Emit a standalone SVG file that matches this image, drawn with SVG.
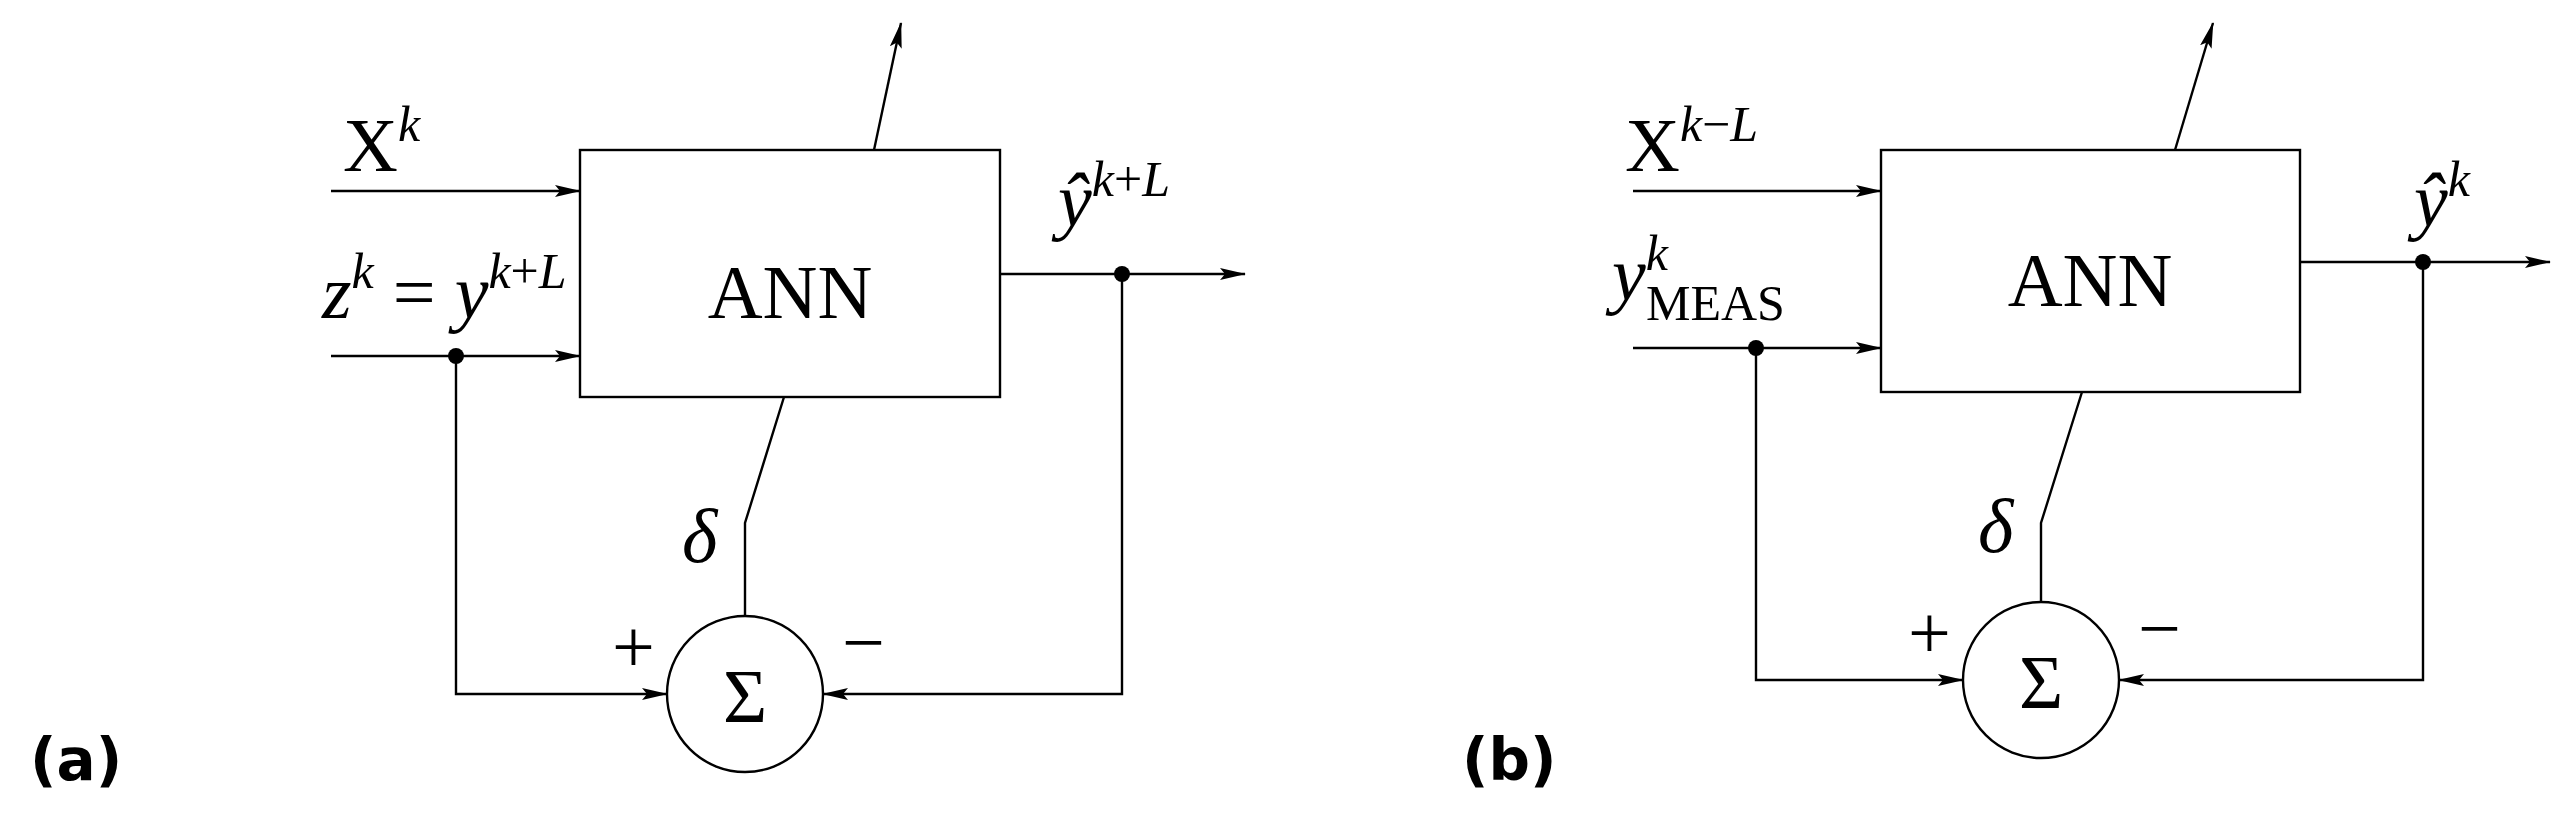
<svg xmlns="http://www.w3.org/2000/svg" width="2561" height="817" viewBox="0 0 2561 817">
<style>
.l{stroke:#000;stroke-width:2.4;fill:none}
.m{font-family:"Liberation Serif",serif;font-style:italic;font-size:76px}
.r{font-family:"Liberation Serif",serif;font-size:76px}
.u{font-style:normal}
.s{font-size:50px}
.b{font-family:"DejaVu Sans",sans-serif;font-weight:bold;font-size:58px}
</style>
<defs><marker id="a" markerWidth="26" markerHeight="12" refX="25" refY="6" orient="auto" markerUnits="userSpaceOnUse"><path d="M0,0L26,6L0,12L5,6z"/></marker></defs>
<rect width="2561" height="817" fill="#fff"/>
<g id="conn">
<path class="l" d="M331,191H580" marker-end="url(#a)"/>
<path class="l" d="M331,356H580" marker-end="url(#a)"/>
<path class="l" d="M874,150L901,23" marker-end="url(#a)"/>
<path class="l" d="M784,397L745,523V616"/>
<path class="l" d="M456,356V694H667" marker-end="url(#a)"/>
<path class="l" d="M1000,274H1245" marker-end="url(#a)"/>
<path class="l" d="M1122,274V694H823" marker-end="url(#a)"/>
<circle cx="456" cy="356" r="8"/><circle cx="1122" cy="274" r="8"/>
<path class="l" d="M1633,191H1881" marker-end="url(#a)"/>
<path class="l" d="M1633,348H1881" marker-end="url(#a)"/>
<path class="l" d="M2175,150L2213,23" marker-end="url(#a)"/>
<path class="l" d="M2082,392L2041,523V602"/>
<path class="l" d="M1756,348V680H1963" marker-end="url(#a)"/>
<path class="l" d="M2300,262H2550" marker-end="url(#a)"/>
<path class="l" d="M2423,262V680H2119" marker-end="url(#a)"/>
<circle cx="1756" cy="348" r="8"/><circle cx="2423" cy="262" r="8"/>
</g>
<g id="annA"><rect class="l" x="580" y="150" width="420" height="247"/><text class="r" x="790" y="318" text-anchor="middle" font-size="100">ANN</text></g>
<g id="sumA"><circle class="l" cx="745" cy="694" r="78"/><text class="r" x="745" y="722" text-anchor="middle" font-size="82">Σ</text></g>
<g id="annB"><rect class="l" x="1881" y="150" width="419" height="242"/><text class="r" x="2090" y="306" text-anchor="middle" font-size="100">ANN</text></g>
<g id="sumB"><circle class="l" cx="2041" cy="680" r="78"/><text class="r" x="2041" y="708" text-anchor="middle" font-size="82">Σ</text></g>
<g id="labels">
<text class="r" x="343" y="171">X<tspan class="m s" dy="-30">k</tspan></text>
<text class="m" x="322" y="318">z<tspan class="s" dy="-30">k</tspan><tspan class="u" dy="30"> = </tspan>y<tspan class="s" dy="-30">k</tspan><tspan class="u s">+</tspan><tspan class="s">L</tspan></text>
<text class="m" x="1058" y="226">ŷ<tspan class="s" dy="-30">k</tspan><tspan class="u s">+</tspan><tspan class="s">L</tspan></text>
<text class="m" x="682" y="562">δ</text>
<text class="r" x="612" y="672" font-size="50">+</text>
<text class="r" x="842" y="668" font-size="50">−</text>
<text class="b" x="30" y="780">(a)</text>
<text class="r" x="1625" y="171">X<tspan class="m s" dy="-30">k</tspan><tspan class="s">−</tspan><tspan class="m s">L</tspan></text>
<text class="m" x="1612" y="300">y<tspan class="s" dy="-30">k</tspan><tspan class="u s" dx="-22" dy="50">MEAS</tspan></text>
<text class="m" x="2414" y="226">ŷ<tspan class="s" dy="-30">k</tspan></text>
<text class="m" x="1978" y="552">δ</text>
<text class="r" x="1908" y="658" font-size="50">+</text>
<text class="r" x="2138" y="654" font-size="50">−</text>
<text class="b" x="1462" y="780">(b)</text>
</g>
</svg>
